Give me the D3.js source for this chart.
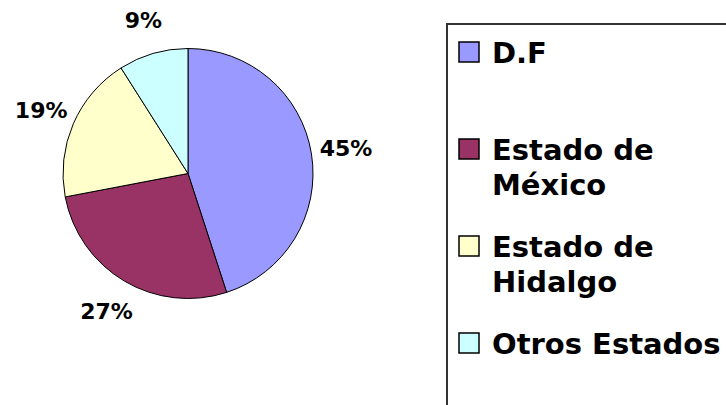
<!DOCTYPE html>
<html>
<head>
<meta charset="utf-8">
<script src="https://cdn.jsdelivr.net/npm/d3@7"></script>
<style>
    body { margin: 0; background: #fff; }
    text { font-family: "DejaVu Sans", Verdana, sans-serif; font-weight: bold; fill: #000; }
</style>
</head>
<body>
<script>
const categories = ["D.F", "Estado de México", "Estado de Hidalgo", "Otros Estados"];
const legendLines = [["D.F"], ["Estado de", "México"], ["Estado de", "Hidalgo"], ["Otros Estados"]];
const values = [45, 27, 19, 9];
const colors = ["#9999ff", "#993366", "#ffffcc", "#ccffff"];

const w = 726,
    h = 405;

const svg = d3.select('body').append('svg')
    .attr('width', w)
    .attr('height', h);

svg.append('rect')
    .attr('width', w)
    .attr('height', h)
    .attr('fill', '#fff');

// pie
const cx = 188, cy = 173.5, r = 125;

const pie = d3.pie()
    .sort(null)
    .value(d => d);

const arcs = pie(values);

const arc = d3.arc()
    .innerRadius(0)
    .outerRadius(r);

const labelArc = d3.arc()
    .innerRadius(160)
    .outerRadius(160);

const g = svg.append('g')
    .attr('transform', 'translate(' + cx + ',' + cy + ')');

g.selectAll('path')
    .data(arcs)
    .join('path')
    .attr('d', arc)
    .attr('fill', (d, i) => colors[i])
    .attr('stroke', '#000')
    .attr('stroke-width', 1);

g.selectAll('text')
    .data(arcs)
    .join('text')
    .attr('transform', d => 'translate(' + labelArc.centroid(d) + ')')
    .attr('text-anchor', 'middle')
    .attr('dy', '0.36em')
    .style('font-size', '22px')
    .text(d => d.data + '%');

// legend
svg.append('rect')
    .attr('x', 447)
    .attr('y', 24)
    .attr('width', 400)
    .attr('height', 500)
    .attr('fill', 'none')
    .attr('stroke', '#333')
    .attr('stroke-width', 2);

const ly = d3.scalePoint()
    .domain(categories)
    .range([63, 354]);

const item = svg.append('g').selectAll('g')
    .data(categories)
    .join('g')
    .attr('transform', d => 'translate(0,' + ly(d) + ')');

item.append('rect')
    .attr('x', 459)
    .attr('y', -21)
    .attr('width', 20)
    .attr('height', 20)
    .attr('fill', (d, i) => colors[i])
    .attr('stroke', '#000')
    .attr('stroke-width', 1.5);

item.append('text')
    .attr('x', 492)
    .style('font-size', '29px')
    .selectAll('tspan')
    .data((d, i) => legendLines[i])
    .join('tspan')
    .attr('x', 492)
    .attr('dy', (d, i) => i === 0 ? 0 : 35)
    .text(d => d);
</script>
</body>
</html>
